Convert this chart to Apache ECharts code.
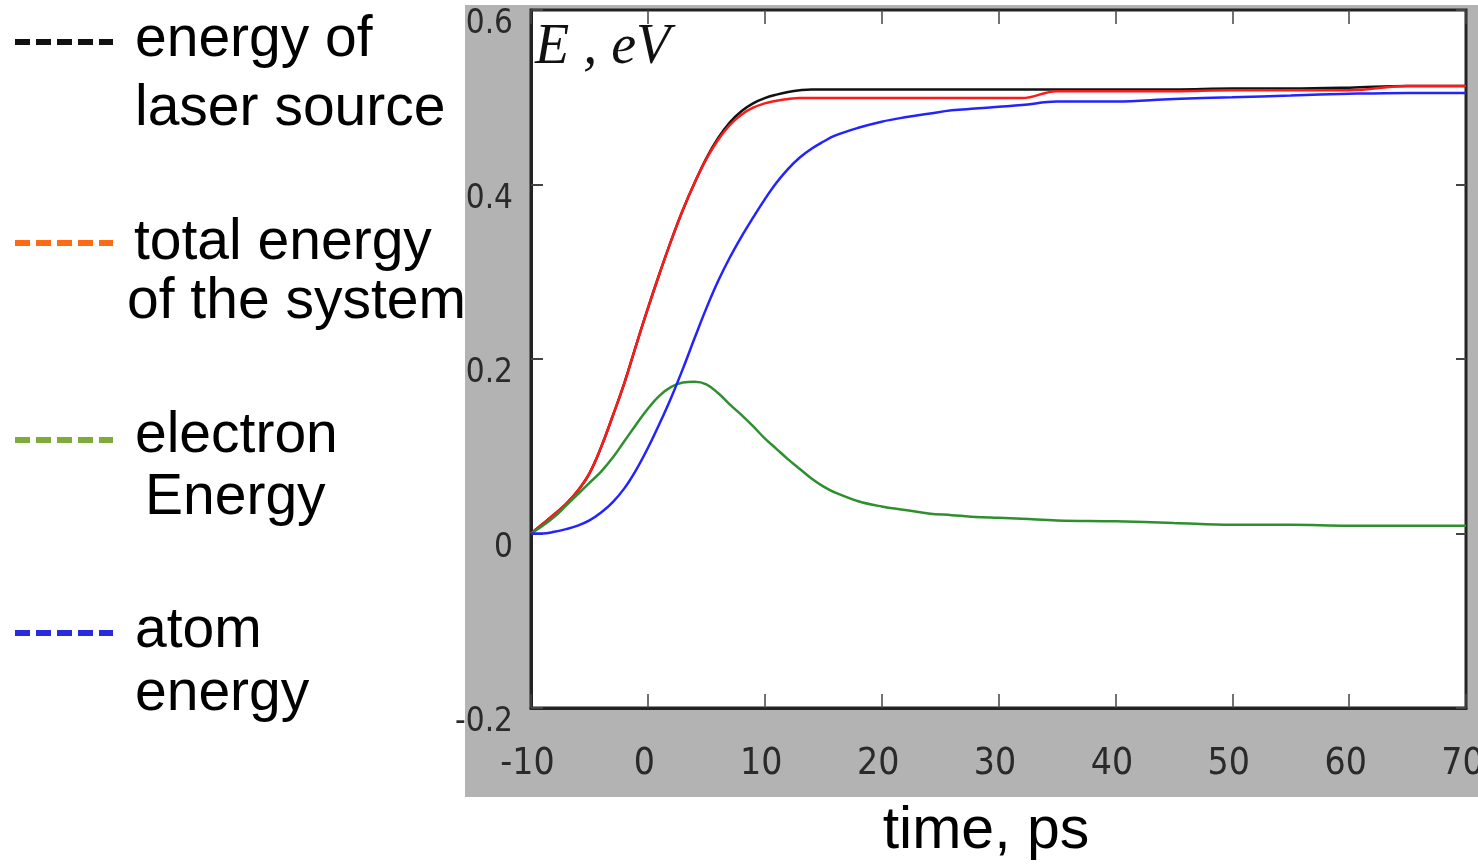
<!DOCTYPE html>
<html>
<head>
<meta charset="utf-8">
<script src="https://cdn.jsdelivr.net/npm/echarts@6/dist/echarts.min.js"></script>
<style>
  html, body { margin: 0; padding: 0; background: #fff; }
  #main { width: 1478px; height: 864px; }
</style>
</head>
<body>
<div id="main"></div>
<script>
// time, ps
let times = [-10, -9, -8, -7, -6, -5, -4, -3, -2, -1, 0, 1, 2, 3, 4, 5, 6, 7, 8, 9, 10, 11, 12, 13, 14, 15, 16,
    18, 20, 22, 24, 26, 28, 30, 32, 35, 40, 45, 50, 55, 60, 65, 70];

// E, eV
let laserEnergy = [0, 0.011, 0.022, 0.034, 0.049, 0.069, 0.099, 0.135, 0.173, 0.216, 0.258, 0.298, 0.336, 0.371,
    0.402, 0.430, 0.453, 0.471, 0.484, 0.493, 0.499, 0.503, 0.506, 0.508, 0.509, 0.509, 0.509,
    0.509, 0.509, 0.509, 0.509, 0.509, 0.509, 0.509, 0.509, 0.509, 0.509, 0.509, 0.510, 0.510, 0.511, 0.513, 0.513];
let totalEnergy = [0, 0.011, 0.022, 0.034, 0.049, 0.069, 0.099, 0.135, 0.173, 0.216, 0.258, 0.298, 0.336, 0.371,
    0.402, 0.429, 0.451, 0.468, 0.480, 0.488, 0.493, 0.496, 0.498, 0.499, 0.499, 0.499, 0.499,
    0.499, 0.499, 0.499, 0.499, 0.499, 0.499, 0.499, 0.499, 0.507, 0.507, 0.507, 0.508, 0.508, 0.508, 0.513, 0.513];
let electronEnergy = [0, 0.009, 0.019, 0.032, 0.045, 0.058, 0.071, 0.087, 0.106, 0.125, 0.143, 0.158, 0.168, 0.173,
    0.174, 0.171, 0.161, 0.148, 0.136, 0.123, 0.109, 0.097, 0.085, 0.074, 0.063, 0.054, 0.047,
    0.037, 0.031, 0.027, 0.023, 0.021, 0.019, 0.018, 0.017, 0.015, 0.014, 0.012, 0.010, 0.010, 0.009, 0.009, 0.009];
let atomEnergy = [0, 0, 0.002, 0.005, 0.009, 0.015, 0.024, 0.036, 0.052, 0.073, 0.098, 0.126, 0.156, 0.189,
    0.224, 0.258, 0.289, 0.316, 0.340, 0.362, 0.383, 0.402, 0.418, 0.431, 0.441, 0.449, 0.456,
    0.465, 0.472, 0.477, 0.481, 0.485, 0.487, 0.489, 0.491, 0.495, 0.495, 0.498, 0.500, 0.502, 0.504, 0.505, 0.505];

// legend texts (lines as in the picture)
let legendNames = ['energy of\nlaser source', 'total energy\nof the system', 'electron\nEnergy', 'atom\nenergy'];
let lineColors = ['#111111', '#ff1a1a', '#2e8f2e', '#2323ff'];
let legendColors = ['#111111', '#ff6a13', '#7faa3c', '#2a2ae0'];

let numFont = '"Liberation Sans Narrow", "DejaVu Sans Condensed", sans-serif';

let app = {};

app.pairs = function (ys) {
    return times.map(function (t, i) { return [t, ys[i]]; });
};

app.series = function (name, ys, color) {
    return {
        name: name,
        type: 'line',
        data: app.pairs(ys),
        showSymbol: false,
        symbol: 'none',
        smooth: 0.4,
        lineStyle: { color: color, width: 2.5 },
        itemStyle: { color: color },
        animation: false
    };
};

// legend drawn as dashes + text on the left
app.legend = function () {
    let els = [];
    let dashY = [42, 243, 440, 633];
    let lines = [
        [['energy of', 135, 40], ['laser source', 135, 109]],
        [['total energy', 134, 243], ['of the system', 127, 302]],
        [['electron', 135, 436], ['Energy', 145, 498]],
        [['atom', 135, 631], ['energy', 135, 694]]
    ];
    for (let i = 0; i < 4; i++) {
        els.push({
            type: 'line',
            shape: { x1: 15, y1: dashY[i], x2: 113, y2: dashY[i] },
            style: { stroke: legendColors[i], lineWidth: 6, lineDash: [15, 6] }
        });
        for (let j = 0; j < lines[i].length; j++) {
            els.push({
                type: 'text',
                x: lines[i][j][1],
                y: lines[i][j][2],
                style: {
                    text: lines[i][j][0],
                    fill: '#000',
                    font: '57px "Liberation Sans", Arial, sans-serif',
                    textAlign: 'left',
                    textVerticalAlign: 'middle'
                }
            });
        }
    }
    return els;
};

var myChart = echarts.init(document.getElementById('main'));

var graphics = [
    {
        type: 'rect',
        z: -100,
        silent: true,
        shape: { x: 465, y: 5, width: 1013, height: 792 },
        style: { fill: '#b3b3b3' }
    },
    {
        type: 'text',
        x: 535,
        y: 48,
        style: {
            text: 'E , eV',
            fill: '#111',
            font: 'italic 56px "Liberation Serif", "Times New Roman", serif',
            textAlign: 'left',
            textVerticalAlign: 'middle'
        }
    },
    {
        type: 'text',
        x: 986,
        y: 832,
        style: {
            text: 'time, ps',
            fill: '#000',
            font: '59px "Liberation Sans", Arial, sans-serif',
            textAlign: 'center',
            textVerticalAlign: 'middle'
        }
    }
].concat(app.legend());

var tickStyle = { color: '#444', width: 1.5 };

var option = {
    backgroundColor: '#fff',
    animation: false,
    grid: {
        left: 531,
        top: 10,
        width: 935,
        height: 698,
        containLabel: false,
        outerBoundsMode: 'none',
        show: true,
        backgroundColor: '#fff',
        borderColor: '#222',
        borderWidth: 3
    },
    xAxis: [
        {
            type: 'value',
            position: 'bottom',
            min: -10,
            max: 70,
            interval: 10,
            axisLine: { show: true, onZero: false, lineStyle: { color: '#222', width: 3 } },
            axisTick: { show: true, inside: true, length: 14, lineStyle: tickStyle },
            splitLine: { show: false },
            axisLabel: {
                margin: 38,
                color: '#2a2a2a',
                fontSize: 37,
                fontFamily: numFont,
                padding: [0, 7, 0, 0]
            }
        },
        {
            type: 'value',
            position: 'top',
            min: -10,
            max: 70,
            interval: 10,
            axisLine: { show: false, onZero: false },
            axisTick: { show: true, inside: true, length: 14, lineStyle: tickStyle },
            splitLine: { show: false },
            axisLabel: { show: false }
        }
    ],
    yAxis: [
        {
            type: 'value',
            position: 'left',
            min: -0.2,
            max: 0.6,
            interval: 0.2,
            axisLine: { show: true, onZero: false, lineStyle: { color: '#222', width: 3 } },
            axisTick: { show: true, inside: true, length: 12, lineStyle: { color: '#444', width: 2 } },
            splitLine: { show: false },
            axisLabel: {
                margin: 18,
                color: '#2a2a2a',
                fontSize: 33,
                fontFamily: numFont,
                verticalAlign: 'top',
                padding: [-2, 0, 0, 0]
            }
        },
        {
            type: 'value',
            position: 'right',
            min: -0.2,
            max: 0.6,
            interval: 0.2,
            axisLine: { show: false, onZero: false },
            axisTick: { show: true, inside: true, length: 10, lineStyle: { color: '#444', width: 2 } },
            splitLine: { show: false },
            axisLabel: { show: false }
        }
    ],
    series: [
        app.series(legendNames[0], laserEnergy, lineColors[0]),
        app.series(legendNames[1], totalEnergy, lineColors[1]),
        app.series(legendNames[2], electronEnergy, lineColors[2]),
        app.series(legendNames[3], atomEnergy, lineColors[3])
    ],
    graphic: graphics
};
myChart.setOption(option);
</script>
</body>
</html>
